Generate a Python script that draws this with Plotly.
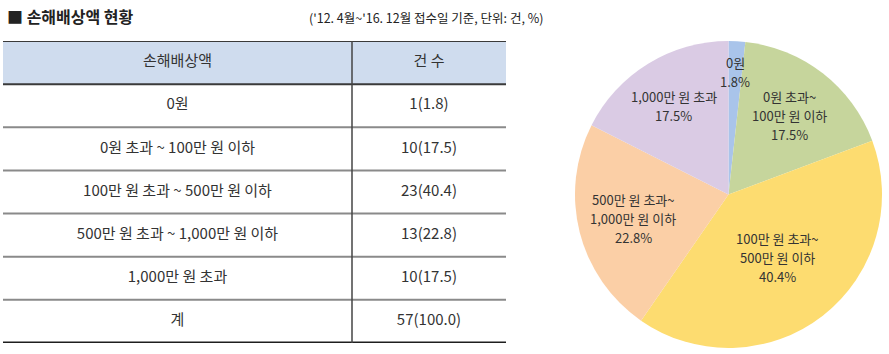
import math
import plotly.graph_objects as go

# ---------------- data ----------------
title_text = "■ 손해배상액 현황"
subtitle_text = "('12. 4월~'16. 12월 접수일 기준, 단위: 건, %)"
header = ["손해배상액", "건 수"]
categories = [
    "0원",
    "0원 초과 ~ 100만 원 이하",
    "100만 원 초과 ~ 500만 원 이하",
    "500만 원 초과 ~ 1,000만 원 이하",
    "1,000만 원 초과",
]
pie_labels = [
    ["0원"],
    ["0원 초과~", "100만 원 이하"],
    ["100만 원 초과~", "500만 원 이하"],
    ["500만 원 초과~", "1,000만 원 이하"],
    ["1,000만 원 초과"],
]
counts = [1, 10, 23, 13, 10]
total_label = "계"

# ---------------- style ----------------
W, H = 889, 354
FONT = "Noto Sans CJK KR, sans-serif"
TXT = "#333333"
slice_colors = ["#a9c4ea", "#c6d59c", "#fddc70", "#fbcfa6", "#dacbe4"]
header_fill = "#cfdcee"
label_rfrac = [0.80, 0.65, 0.52, 0.64, 0.68]
LINE_GAP = 19  # px between label lines

# table geometry (pixels)
tx0, tx1, tdiv = 3, 506, 352
ty0, ty1 = 41, 343

total = sum(counts)
rows_left = [header[0]] + categories + [total_label]
rows_right = [header[1]] + [f"{c}({c / total * 100:.1f})" for c in counts] + [f"{total}({100:.1f})"]
nrows = len(rows_left)

fig = go.Figure()

# table drawn on a hidden axis: x in pixel-units, y = row index
fig.add_trace(go.Scatter(
    x=[(tx0 + tdiv) / 2] * nrows + [(tdiv + tx1) / 2] * nrows,
    y=list(range(nrows)) * 2,
    text=rows_left + rows_right,
    mode="text",
    textfont=dict(family=FONT, size=15, color=TXT),
    textposition="middle center",
    hoverinfo="skip",
    showlegend=False,
    xaxis="x", yaxis="y",
))

shapes = []
shapes.append(dict(type="rect", xref="x", yref="y", x0=tx0, x1=tx1, y0=-0.5, y1=0.5,
                   fillcolor=header_fill, line=dict(width=0), layer="below"))
for i in range(nrows + 1):
    yb = i - 0.5
    if i == 0 or i == 1:
        col, w = "#3a3a3a", 2
    elif i == nrows:
        col, w = "#1e1e1e", 3
    else:
        col, w = "#8a8a8a", 2
    shapes.append(dict(type="line", xref="x", yref="y", x0=tx0, x1=tx1, y0=yb, y1=yb,
                       line=dict(color=col, width=w)))
shapes.append(dict(type="line", xref="x", yref="y", x0=tdiv, x1=tdiv, y0=-0.5, y1=nrows - 0.5,
                   line=dict(color="#444444", width=1.5)))

# pie
pcx0, pcx1, pcy0, pcy1 = 575, 882, 41, 348
fig.add_trace(go.Pie(
    values=counts,
    labels=categories,
    sort=False,
    direction="clockwise",
    rotation=0,
    marker=dict(colors=slice_colors, line=dict(width=0)),
    textinfo="none",
    hoverinfo="skip",
    showlegend=False,
    domain=dict(x=[pcx0 / W, pcx1 / W], y=[1 - pcy1 / H, 1 - pcy0 / H]),
))

annotations = []
cx, cy = (pcx0 + pcx1) / 2, (pcy0 + pcy1) / 2
R = min(pcx1 - pcx0, pcy1 - pcy0) / 2
cum = 0
for lab, v, rf in zip(pie_labels, counts, label_rfrac):
    mid = (cum + v / 2) / total * 2 * math.pi
    cum += v
    px = cx + rf * R * math.sin(mid)
    py = cy - rf * R * math.cos(mid)
    lines = lab + [f"{v / total * 100:.1f}%"]
    n = len(lines)
    for k, ln in enumerate(lines):
        ly = py + (k - (n - 1) / 2) * LINE_GAP
        annotations.append(dict(
            x=px / W, y=1 - ly / H, xref="paper", yref="paper",
            text=ln, showarrow=False,
            font=dict(family=FONT, size=13, color=TXT), align="center",
            xanchor="center", yanchor="middle",
        ))

annotations.append(dict(x=5 / W, y=1 - 16 / H, xref="paper", yref="paper", text=f"<b>{title_text}</b>",
                        showarrow=False, xanchor="left", yanchor="middle",
                        font=dict(family=FONT, size=16, color="#222222")))
annotations.append(dict(x=545 / W, y=1 - 18 / H, xref="paper", yref="paper", text=subtitle_text,
                        showarrow=False, xanchor="right", yanchor="middle",
                        font=dict(family=FONT, size=12.5, color="#222222")))

fig.update_layout(
    width=W, height=H,
    margin=dict(l=0, r=0, t=0, b=0),
    paper_bgcolor="white", plot_bgcolor="white",
    xaxis=dict(domain=[tx0 / W, tx1 / W], range=[tx0, tx1], visible=False, fixedrange=True),
    yaxis=dict(domain=[1 - ty1 / H, 1 - ty0 / H], range=[nrows - 0.5, -0.5], visible=False, fixedrange=True),
    shapes=shapes,
    annotations=annotations,
)

fig.write_html("out.html")
